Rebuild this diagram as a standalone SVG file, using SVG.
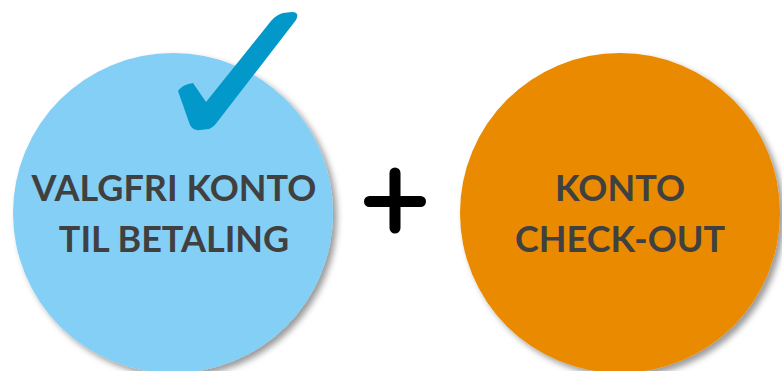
<svg xmlns="http://www.w3.org/2000/svg" width="782" height="371" viewBox="0 0 782 371">
<style>
.lbl{font-family:Lato,"Liberation Sans",Arial,sans-serif;font-weight:bold;font-size:36px;fill:#404040;text-anchor:middle}
</style>
<defs>
<filter id="sh" x="-20%" y="-20%" width="140%" height="140%">
<feDropShadow dx="4" dy="4" stdDeviation="3" flood-color="#000" flood-opacity="0.4"/>
</filter>
</defs>
<rect width="782" height="371" fill="#fff"/>
<g id="node-left">
<circle cx="173" cy="213" r="160" fill="#84CFF5" filter="url(#sh)"/>
<path d="M193 83 Q183 84 178 91 L190 125 Q193 131 200 130 L209 129 Q214 127 218 121 L296 20 Q300 12 292 12 L283 13 Q276 15 271 21 L206 102 Z" fill="#0398CA"/>
<text class="lbl" x="174" y="201">VALGFRI KONTO</text>
<text class="lbl" x="174" y="252">TIL BETALING</text>
</g>
<g id="connectors">
<g stroke="#000" stroke-width="11" stroke-linecap="round">
<line x1="395" y1="173" x2="395" y2="228"/>
<line x1="369.5" y1="201.5" x2="420.5" y2="201.5"/>
</g>
</g>
<g id="node-right">
<circle cx="620" cy="213" r="160" fill="#EA8A00" filter="url(#sh)"/>
<text class="lbl" x="620" y="201">KONTO</text>
<text class="lbl" x="620" y="252">CHECK-OUT</text>
</g>
</svg>
